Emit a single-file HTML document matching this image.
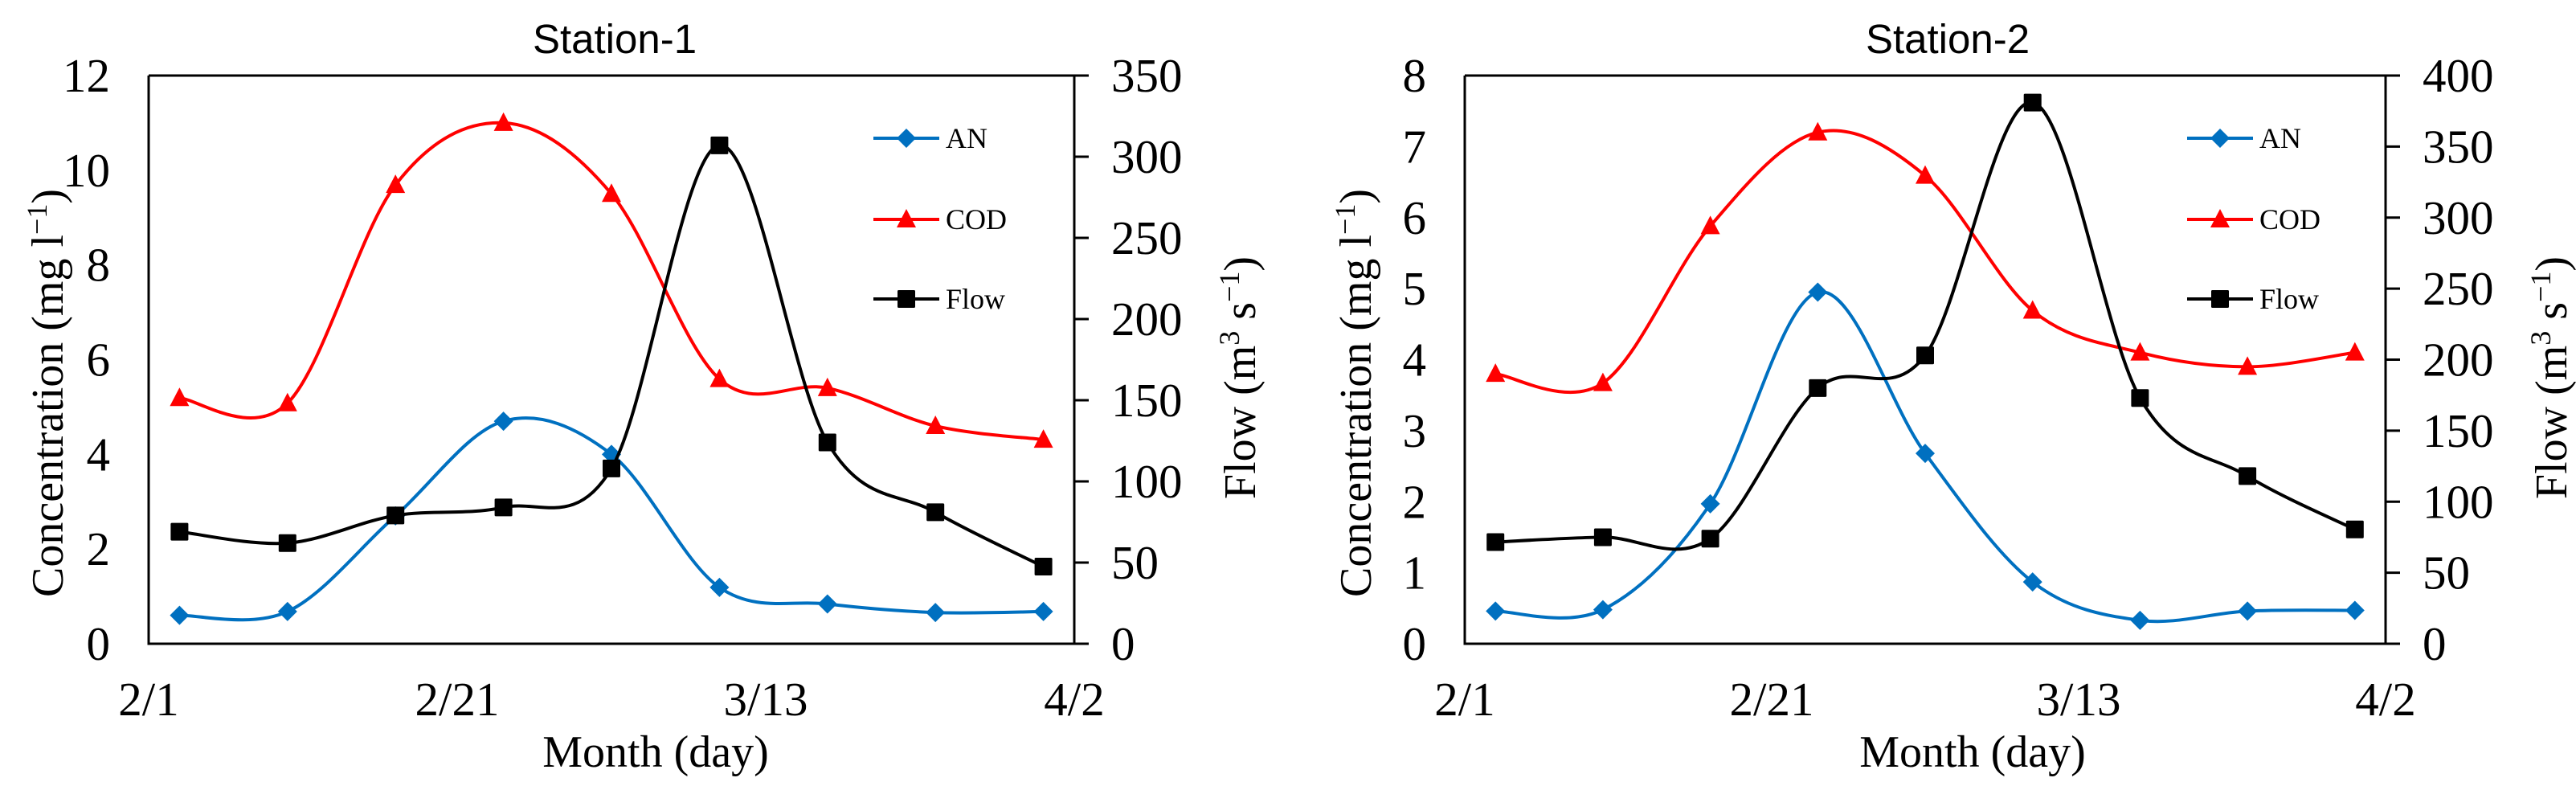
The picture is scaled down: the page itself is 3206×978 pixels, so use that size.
<!DOCTYPE html>
<html><head><meta charset="utf-8">
<style>
html,body{margin:0;padding:0;background:#fff;}
svg{display:block;}
text{font-family:"Liberation Serif",serif;fill:#000;}
.title{font-family:"Liberation Sans",sans-serif;font-size:51px;}
.tick{font-size:59px;}
.axt{font-size:56px;}
.leg{font-size:36px;}
</style></head>
<body>
<svg id="chart" width="3206" height="978" viewBox="0 0 3206 978" xmlns="http://www.w3.org/2000/svg"></svg>
<script>
// shared data
const days = [2, 9, 16, 23, 30, 37, 44, 51, 58];
const xTickLabels = ["2/1", "2/21", "3/13", "4/2"];
const xTickDays = [0, 20, 40, 60];
// Station-1
const s1AN = [0.60, 0.68, 2.70, 4.70, 4.00, 1.19, 0.84, 0.66, 0.68];
const s1COD = [5.19, 5.08, 9.69, 11.0, 9.50, 5.59, 5.40, 4.60, 4.31];
const s1Flow = [69, 62, 79, 84, 108, 307, 124, 81, 47.5];
const s1LeftTicks = [0, 2, 4, 6, 8, 10, 12];
const s1RightTicks = [0, 50, 100, 150, 200, 250, 300, 350];
// Station-2
const s2AN = [0.46, 0.48, 1.97, 4.95, 2.68, 0.87, 0.33, 0.46, 0.47];
const s2COD = [3.80, 3.67, 5.88, 7.20, 6.59, 4.69, 4.10, 3.90, 4.10];
const s2Flow = [71.6, 75, 74, 180, 203, 381, 173, 118, 80.5];
const s2LeftTicks = [0, 1, 2, 3, 4, 5, 6, 7, 8];
const s2RightTicks = [0, 50, 100, 150, 200, 250, 300, 350, 400];

const NS = "http://www.w3.org/2000/svg";
const svg = document.getElementById("chart");
function mk(tag, attrs, parent, txt) {
  const e = document.createElementNS(NS, tag);
  for (const k in attrs) e.setAttribute(k, attrs[k]);
  if (txt !== undefined) e.textContent = txt;
  (parent || svg).appendChild(e);
  return e;
}
function spline(pts) {
  let d = "M" + pts[0][0] + "," + pts[0][1];
  const t = 1 / 6;
  for (let i = 0; i < pts.length - 1; i++) {
    const p0 = pts[Math.max(i - 1, 0)], p1 = pts[i], p2 = pts[i + 1], p3 = pts[Math.min(i + 2, pts.length - 1)];
    const c1x = p1[0] + (p2[0] - p0[0]) * t, c1y = p1[1] + (p2[1] - p0[1]) * t;
    const c2x = p2[0] - (p3[0] - p1[0]) * t, c2y = p2[1] - (p3[1] - p1[1]) * t;
    d += " C" + c1x + "," + c1y + " " + c2x + "," + c2y + " " + p2[0] + "," + p2[1];
  }
  return d;
}
function marker(kind, x, y, color, g) {
  let m;
  if (kind === "diamond") m = mk("polygon", {points: `${x},${y-12} ${x+12},${y} ${x},${y+12} ${x-12},${y}`, fill: color}, g);
  else if (kind === "triangle") m = mk("polygon", {points: `${x},${y-13} ${x+12},${y+10} ${x-12},${y+10}`, fill: color}, g);
  else m = mk("rect", {x: x - 11, y: y - 11, width: 22, height: 22, fill: color, rx: 1.5}, g);
  return m;
}

function panel(cfg) {
  const g = mk("g", {});
  
  
  const L = cfg.left, R = cfg.right, T = 94, B = 801;
  const xs = d => L + (d / 60) * (R - L);
  const yl = v => B - (v / cfg.lmax) * (B - T);
  const yr = v => B - (v / cfg.rmax) * (B - T);

  const title = mk("text", {x: cfg.titleX, y: 66, "text-anchor": "middle", class: "title"}, g, cfg.title);
  
  

  const series = [
    {vals: cfg.an, color: "#0070c0", kind: "diamond", y: yl, nm: "an-series"},
    {vals: cfg.cod, color: "#ff0000", kind: "triangle", y: yl, nm: "cod-series"},
    {vals: cfg.flow, color: "#000000", kind: "square", y: yr, nm: "flow-series"}
  ];
  series.forEach(s => {
    const sg = mk("g", {}, g);
    
    
    const pts = s.vals.map((v, i) => [xs(days[i]), s.y(v)]);
    const p = mk("path", {d: spline(pts), fill: "none", stroke: s.color, "stroke-width": 4}, sg);
    
    
    pts.forEach(pt => {
      const m = marker(s.kind, pt[0], pt[1], s.color, sg);
      
      
    });
  });

  const ax = mk("path", {d: `M${L},${T} V${B} H${R} V${T}`, fill: "none", stroke: "#000", "stroke-width": 3}, g);
  
  
  const top = mk("line", {x1: L, y1: T, x2: R, y2: T, stroke: "#000", "stroke-width": 3}, g);
  
  

  cfg.lt.forEach(v => {
    const t = mk("text", {x: cfg.leftLabelX, y: yl(v) + 20, "text-anchor": "end", class: "tick"}, g, String(v));
    
    
  });
  cfg.rt.forEach(v => {
    const tk = mk("line", {x1: R, y1: yr(v), x2: R + 18, y2: yr(v), stroke: "#000", "stroke-width": 3}, g);
    
    
    const t = mk("text", {x: R + 46, y: yr(v) + 20, "text-anchor": "start", class: "tick"}, g, String(v));
    
    
  });
  xTickLabels.forEach((lab, i) => {
    const t = mk("text", {x: xs(xTickDays[i]), y: 890, "text-anchor": "middle", class: "tick"}, g, lab);
    
    
  });

  const xt = mk("text", {x: cfg.xTitleX, y: 954, "text-anchor": "middle", class: "axt"}, g, "Month (day)");
  
  

  const ylt = mk("text", {x: 0, y: 0, "text-anchor": "middle", class: "axt", transform: `translate(${cfg.ylTitleX},489) rotate(-90)`}, g);
  
  
  mk("tspan", {}, ylt, "Concentration (mg l");
  mk("tspan", {dy: -20, "font-size": 36}, ylt, "−1");
  mk("tspan", {dy: 20}, ylt, ")");

  const yrt = mk("text", {x: 0, y: 0, "text-anchor": "middle", class: "axt", transform: `translate(${cfg.yrTitleX},470) rotate(-90)`}, g);
  
  
  mk("tspan", {}, yrt, "Flow (m");
  mk("tspan", {dy: -20, "font-size": 36}, yrt, "3");
  mk("tspan", {dy: 20}, yrt, " s");
  mk("tspan", {dy: -20, "font-size": 36}, yrt, "−1");
  mk("tspan", {dy: 20}, yrt, ")");

  const lg = mk("g", {}, g);
  
  
  const names = ["AN", "COD", "Flow"], rows = [172, 273, 372];
  series.forEach((s, i) => {
    const eg = mk("g", {}, lg);
    
    
    mk("line", {x1: cfg.legX, y1: rows[i], x2: cfg.legX + 82, y2: rows[i], stroke: s.color, "stroke-width": 4}, eg);
    marker(s.kind, cfg.legX + 41, rows[i], s.color, eg);
    mk("text", {x: cfg.legX + 90, y: rows[i] + 12, class: "leg"}, eg, names[i]);
  });
}

panel({name: "station-1-panel", title: "Station-1", titleX: 765, left: 185, right: 1337,
  lmax: 12, rmax: 350, lt: s1LeftTicks, rt: s1RightTicks, an: s1AN, cod: s1COD, flow: s1Flow,
  leftLabelX: 137, xTitleX: 816, ylTitleX: 78, yrTitleX: 1562, legX: 1087});
panel({name: "station-2-panel", title: "Station-2", titleX: 2424, left: 1823, right: 2969,
  lmax: 8, rmax: 400, lt: s2LeftTicks, rt: s2RightTicks, an: s2AN, cod: s2COD, flow: s2Flow,
  leftLabelX: 1775, xTitleX: 2455, ylTitleX: 1706, yrTitleX: 3194, legX: 2722});
</script>
</body></html>
